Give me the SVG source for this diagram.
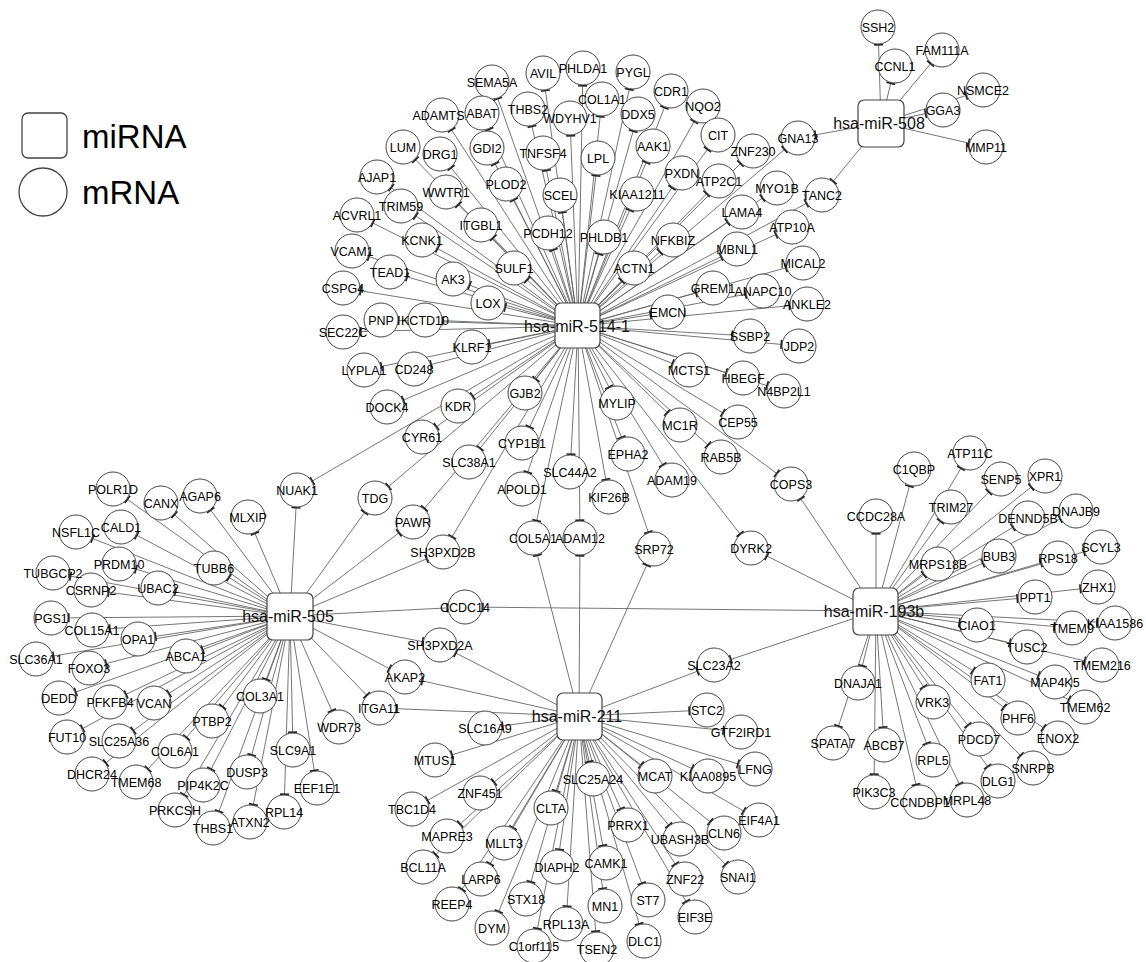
<svg xmlns="http://www.w3.org/2000/svg" width="1146" height="962" viewBox="0 0 1146 962">
<style>
.bg{fill:#fff}
#edges line{stroke:#666;stroke-width:0.9;marker-end:url(#t)}
.n circle{fill:#fff;stroke:#444;stroke-width:1}
.n text{font-family:"Liberation Sans",Arial,sans-serif;font-size:12.5px;text-anchor:middle;fill:#000}
.m rect{fill:#fff;stroke:#444;stroke-width:1.2}
.m text{font-family:"Liberation Sans",Arial,sans-serif;font-size:16px;text-anchor:middle;fill:#111}
.lg{font-family:"Liberation Sans",Arial,sans-serif;font-size:33px;fill:#000}
</style>
<defs>
<marker id="t" markerUnits="userSpaceOnUse" orient="auto" markerWidth="1" markerHeight="1" refX="0" refY="0" overflow="visible">
<path d="M-17.8,-4.5 L-17.8,4.5" stroke="#222" stroke-width="1.7" fill="none"/>
</marker>
</defs>
<rect class="bg" x="0" y="0" width="1146" height="962"/>
<g id="legend">
<rect x="22" y="113" width="45" height="45" rx="6" fill="#fff" stroke="#444" stroke-width="1.3"/>
<text class="lg" x="82" y="148">miRNA</text>
<circle cx="43" cy="192" r="24" fill="#fff" stroke="#444" stroke-width="1.3"/>
<text class="lg" x="82" y="204">mRNA</text>
</g>
<g id="edges">
<line x1="578" y1="326" x2="492" y2="82"/>
<line x1="578" y1="326" x2="543" y2="73"/>
<line x1="578" y1="326" x2="583" y2="68"/>
<line x1="578" y1="326" x2="633" y2="72"/>
<line x1="578" y1="326" x2="442" y2="115"/>
<line x1="578" y1="326" x2="482" y2="113"/>
<line x1="578" y1="326" x2="528" y2="109"/>
<line x1="578" y1="326" x2="570" y2="118"/>
<line x1="578" y1="326" x2="602" y2="99"/>
<line x1="578" y1="326" x2="671" y2="91"/>
<line x1="578" y1="326" x2="703" y2="106"/>
<line x1="578" y1="326" x2="638" y2="114"/>
<line x1="578" y1="326" x2="403" y2="147"/>
<line x1="578" y1="326" x2="440" y2="154"/>
<line x1="578" y1="326" x2="487" y2="148"/>
<line x1="578" y1="326" x2="543" y2="153"/>
<line x1="578" y1="326" x2="598" y2="158"/>
<line x1="578" y1="326" x2="653" y2="146"/>
<line x1="578" y1="326" x2="718" y2="135"/>
<line x1="578" y1="326" x2="753" y2="151"/>
<line x1="578" y1="326" x2="798" y2="138"/>
<line x1="578" y1="326" x2="377" y2="177"/>
<line x1="578" y1="326" x2="446" y2="192"/>
<line x1="578" y1="326" x2="506" y2="184"/>
<line x1="578" y1="326" x2="560" y2="195"/>
<line x1="578" y1="326" x2="682" y2="173"/>
<line x1="578" y1="326" x2="719" y2="181"/>
<line x1="578" y1="326" x2="637" y2="194"/>
<line x1="578" y1="326" x2="777" y2="188"/>
<line x1="578" y1="326" x2="822" y2="195"/>
<line x1="578" y1="326" x2="401" y2="206"/>
<line x1="578" y1="326" x2="357" y2="215"/>
<line x1="578" y1="326" x2="481" y2="225"/>
<line x1="578" y1="326" x2="548" y2="233"/>
<line x1="578" y1="326" x2="742" y2="212"/>
<line x1="578" y1="326" x2="792" y2="227"/>
<line x1="578" y1="326" x2="604" y2="237"/>
<line x1="578" y1="326" x2="673" y2="240"/>
<line x1="578" y1="326" x2="737" y2="249"/>
<line x1="578" y1="326" x2="422" y2="240"/>
<line x1="578" y1="326" x2="352" y2="251"/>
<line x1="578" y1="326" x2="514" y2="268"/>
<line x1="578" y1="326" x2="634" y2="268"/>
<line x1="578" y1="326" x2="803" y2="263"/>
<line x1="578" y1="326" x2="390" y2="272"/>
<line x1="578" y1="326" x2="453" y2="279"/>
<line x1="578" y1="326" x2="343" y2="288"/>
<line x1="578" y1="326" x2="713" y2="288"/>
<line x1="578" y1="326" x2="763" y2="291"/>
<line x1="578" y1="326" x2="488" y2="303"/>
<line x1="578" y1="326" x2="807" y2="304"/>
<line x1="578" y1="326" x2="668" y2="312"/>
<line x1="578" y1="326" x2="381" y2="320"/>
<line x1="578" y1="326" x2="425" y2="320"/>
<line x1="578" y1="326" x2="343" y2="332"/>
<line x1="578" y1="326" x2="750" y2="336"/>
<line x1="578" y1="326" x2="799" y2="346"/>
<line x1="578" y1="326" x2="472" y2="347"/>
<line x1="578" y1="326" x2="364" y2="370"/>
<line x1="578" y1="326" x2="414" y2="369"/>
<line x1="578" y1="326" x2="689" y2="370"/>
<line x1="578" y1="326" x2="743" y2="378"/>
<line x1="578" y1="326" x2="784" y2="391"/>
<line x1="578" y1="326" x2="525" y2="393"/>
<line x1="578" y1="326" x2="617" y2="403"/>
<line x1="578" y1="326" x2="387" y2="407"/>
<line x1="578" y1="326" x2="458" y2="406"/>
<line x1="578" y1="326" x2="680" y2="425"/>
<line x1="578" y1="326" x2="738" y2="422"/>
<line x1="578" y1="326" x2="422" y2="437"/>
<line x1="578" y1="326" x2="522" y2="443"/>
<line x1="578" y1="326" x2="628" y2="454"/>
<line x1="578" y1="326" x2="721" y2="457"/>
<line x1="578" y1="326" x2="469" y2="462"/>
<line x1="578" y1="326" x2="570" y2="472"/>
<line x1="578" y1="326" x2="672" y2="480"/>
<line x1="578" y1="326" x2="522" y2="489"/>
<line x1="578" y1="326" x2="609" y2="497"/>
<line x1="578" y1="326" x2="791" y2="484"/>
<line x1="578" y1="326" x2="297" y2="490"/>
<line x1="578" y1="326" x2="375" y2="498"/>
<line x1="578" y1="326" x2="413" y2="522"/>
<line x1="578" y1="326" x2="443" y2="552"/>
<line x1="578" y1="326" x2="533" y2="538"/>
<line x1="578" y1="326" x2="580" y2="538"/>
<line x1="578" y1="326" x2="654" y2="549"/>
<line x1="578" y1="326" x2="751" y2="548"/>
<line x1="881" y1="123" x2="878" y2="27"/>
<line x1="881" y1="123" x2="895" y2="66"/>
<line x1="881" y1="123" x2="942" y2="50"/>
<line x1="881" y1="123" x2="983" y2="90"/>
<line x1="881" y1="123" x2="943" y2="110"/>
<line x1="881" y1="123" x2="986" y2="147"/>
<line x1="881" y1="123" x2="798" y2="138"/>
<line x1="881" y1="123" x2="822" y2="195"/>
<line x1="290" y1="616" x2="297" y2="490"/>
<line x1="290" y1="616" x2="375" y2="498"/>
<line x1="290" y1="616" x2="413" y2="522"/>
<line x1="290" y1="616" x2="443" y2="552"/>
<line x1="290" y1="616" x2="465" y2="607"/>
<line x1="290" y1="616" x2="440" y2="645"/>
<line x1="290" y1="616" x2="405" y2="677"/>
<line x1="290" y1="616" x2="379" y2="708"/>
<line x1="290" y1="616" x2="339" y2="727"/>
<line x1="290" y1="616" x2="317" y2="788"/>
<line x1="290" y1="616" x2="293" y2="750"/>
<line x1="290" y1="616" x2="284" y2="812"/>
<line x1="290" y1="616" x2="250" y2="822"/>
<line x1="290" y1="616" x2="213" y2="828"/>
<line x1="290" y1="616" x2="247" y2="772"/>
<line x1="290" y1="616" x2="260" y2="696"/>
<line x1="290" y1="616" x2="203" y2="785"/>
<line x1="290" y1="616" x2="175" y2="810"/>
<line x1="290" y1="616" x2="212" y2="721"/>
<line x1="290" y1="616" x2="175" y2="751"/>
<line x1="290" y1="616" x2="136" y2="782"/>
<line x1="290" y1="616" x2="92" y2="774"/>
<line x1="290" y1="616" x2="119" y2="741"/>
<line x1="290" y1="616" x2="67" y2="737"/>
<line x1="290" y1="616" x2="154" y2="703"/>
<line x1="290" y1="616" x2="110" y2="702"/>
<line x1="290" y1="616" x2="59" y2="698"/>
<line x1="290" y1="616" x2="186" y2="656"/>
<line x1="290" y1="616" x2="89" y2="668"/>
<line x1="290" y1="616" x2="36" y2="659"/>
<line x1="290" y1="616" x2="138" y2="639"/>
<line x1="290" y1="616" x2="92" y2="630"/>
<line x1="290" y1="616" x2="51" y2="618"/>
<line x1="290" y1="616" x2="158" y2="588"/>
<line x1="290" y1="616" x2="91" y2="590"/>
<line x1="290" y1="616" x2="53" y2="573"/>
<line x1="290" y1="616" x2="119" y2="564"/>
<line x1="290" y1="616" x2="76" y2="532"/>
<line x1="290" y1="616" x2="121" y2="527"/>
<line x1="290" y1="616" x2="214" y2="568"/>
<line x1="290" y1="616" x2="113" y2="489"/>
<line x1="290" y1="616" x2="161" y2="503"/>
<line x1="290" y1="616" x2="200" y2="496"/>
<line x1="290" y1="616" x2="248" y2="517"/>
<line x1="579" y1="716" x2="533" y2="538"/>
<line x1="579" y1="716" x2="580" y2="538"/>
<line x1="579" y1="716" x2="654" y2="549"/>
<line x1="579" y1="716" x2="440" y2="645"/>
<line x1="579" y1="716" x2="405" y2="677"/>
<line x1="579" y1="716" x2="379" y2="708"/>
<line x1="579" y1="716" x2="714" y2="665"/>
<line x1="579" y1="716" x2="707" y2="710"/>
<line x1="579" y1="716" x2="741" y2="732"/>
<line x1="579" y1="716" x2="755" y2="769"/>
<line x1="579" y1="716" x2="708" y2="776"/>
<line x1="579" y1="716" x2="655" y2="776"/>
<line x1="579" y1="716" x2="759" y2="820"/>
<line x1="579" y1="716" x2="724" y2="833"/>
<line x1="579" y1="716" x2="738" y2="877"/>
<line x1="579" y1="716" x2="680" y2="839"/>
<line x1="579" y1="716" x2="628" y2="825"/>
<line x1="579" y1="716" x2="685" y2="879"/>
<line x1="579" y1="716" x2="695" y2="917"/>
<line x1="579" y1="716" x2="648" y2="900"/>
<line x1="579" y1="716" x2="644" y2="941"/>
<line x1="579" y1="716" x2="606" y2="863"/>
<line x1="579" y1="716" x2="605" y2="906"/>
<line x1="579" y1="716" x2="597" y2="949"/>
<line x1="579" y1="716" x2="593" y2="779"/>
<line x1="579" y1="716" x2="557" y2="867"/>
<line x1="579" y1="716" x2="566" y2="924"/>
<line x1="579" y1="716" x2="534" y2="946"/>
<line x1="579" y1="716" x2="551" y2="808"/>
<line x1="579" y1="716" x2="526" y2="899"/>
<line x1="579" y1="716" x2="492" y2="928"/>
<line x1="579" y1="716" x2="504" y2="843"/>
<line x1="579" y1="716" x2="481" y2="879"/>
<line x1="579" y1="716" x2="452" y2="904"/>
<line x1="579" y1="716" x2="447" y2="836"/>
<line x1="579" y1="716" x2="423" y2="867"/>
<line x1="579" y1="716" x2="480" y2="793"/>
<line x1="579" y1="716" x2="412" y2="809"/>
<line x1="579" y1="716" x2="435" y2="760"/>
<line x1="579" y1="716" x2="485" y2="728"/>
<line x1="876" y1="611" x2="791" y2="484"/>
<line x1="876" y1="611" x2="751" y2="548"/>
<line x1="876" y1="611" x2="465" y2="607"/>
<line x1="876" y1="611" x2="714" y2="665"/>
<line x1="876" y1="611" x2="876" y2="516"/>
<line x1="876" y1="611" x2="914" y2="469"/>
<line x1="876" y1="611" x2="970" y2="453"/>
<line x1="876" y1="611" x2="951" y2="507"/>
<line x1="876" y1="611" x2="1001" y2="479"/>
<line x1="876" y1="611" x2="1045" y2="476"/>
<line x1="876" y1="611" x2="1028" y2="518"/>
<line x1="876" y1="611" x2="1076" y2="511"/>
<line x1="876" y1="611" x2="938" y2="564"/>
<line x1="876" y1="611" x2="999" y2="556"/>
<line x1="876" y1="611" x2="1058" y2="558"/>
<line x1="876" y1="611" x2="1101" y2="547"/>
<line x1="876" y1="611" x2="1098" y2="587"/>
<line x1="876" y1="611" x2="1035" y2="597"/>
<line x1="876" y1="611" x2="977" y2="625"/>
<line x1="876" y1="611" x2="1072" y2="628"/>
<line x1="876" y1="611" x2="1115" y2="623"/>
<line x1="876" y1="611" x2="1027" y2="647"/>
<line x1="876" y1="611" x2="1102" y2="665"/>
<line x1="876" y1="611" x2="988" y2="680"/>
<line x1="876" y1="611" x2="1055" y2="682"/>
<line x1="876" y1="611" x2="1085" y2="707"/>
<line x1="876" y1="611" x2="1018" y2="718"/>
<line x1="876" y1="611" x2="1058" y2="738"/>
<line x1="876" y1="611" x2="933" y2="702"/>
<line x1="876" y1="611" x2="979" y2="739"/>
<line x1="876" y1="611" x2="1033" y2="768"/>
<line x1="876" y1="611" x2="998" y2="781"/>
<line x1="876" y1="611" x2="933" y2="760"/>
<line x1="876" y1="611" x2="967" y2="800"/>
<line x1="876" y1="611" x2="920" y2="802"/>
<line x1="876" y1="611" x2="884" y2="745"/>
<line x1="876" y1="611" x2="874" y2="792"/>
<line x1="876" y1="611" x2="858" y2="683"/>
<line x1="876" y1="611" x2="833" y2="743"/>
</g>
<g id="n-SEMA5A" class="n" transform="translate(492,82)"><circle r="17"/><text y="4.5">SEMA5A</text></g>
<g id="n-AVIL" class="n" transform="translate(543,73)"><circle r="17"/><text y="4.5">AVIL</text></g>
<g id="n-PHLDA1" class="n" transform="translate(583,68)"><circle r="17"/><text y="4.5">PHLDA1</text></g>
<g id="n-PYGL" class="n" transform="translate(633,72)"><circle r="17"/><text y="4.5">PYGL</text></g>
<g id="n-ADAMTS1" class="n" transform="translate(442,115)"><circle r="17"/><text y="4.5">ADAMTS1</text></g>
<g id="n-ABAT" class="n" transform="translate(482,113)"><circle r="17"/><text y="4.5">ABAT</text></g>
<g id="n-THBS2" class="n" transform="translate(528,109)"><circle r="17"/><text y="4.5">THBS2</text></g>
<g id="n-WDYHV1" class="n" transform="translate(570,118)"><circle r="17"/><text y="4.5">WDYHV1</text></g>
<g id="n-COL1A1" class="n" transform="translate(602,99)"><circle r="17"/><text y="4.5">COL1A1</text></g>
<g id="n-CDR1" class="n" transform="translate(671,91)"><circle r="17"/><text y="4.5">CDR1</text></g>
<g id="n-NQO2" class="n" transform="translate(703,106)"><circle r="17"/><text y="4.5">NQO2</text></g>
<g id="n-DDX5" class="n" transform="translate(638,114)"><circle r="17"/><text y="4.5">DDX5</text></g>
<g id="n-LUM" class="n" transform="translate(403,147)"><circle r="17"/><text y="4.5">LUM</text></g>
<g id="n-DRG1" class="n" transform="translate(440,154)"><circle r="17"/><text y="4.5">DRG1</text></g>
<g id="n-GDI2" class="n" transform="translate(487,148)"><circle r="17"/><text y="4.5">GDI2</text></g>
<g id="n-TNFSF4" class="n" transform="translate(543,153)"><circle r="17"/><text y="4.5">TNFSF4</text></g>
<g id="n-LPL" class="n" transform="translate(598,158)"><circle r="17"/><text y="4.5">LPL</text></g>
<g id="n-AAK1" class="n" transform="translate(653,146)"><circle r="17"/><text y="4.5">AAK1</text></g>
<g id="n-CIT" class="n" transform="translate(718,135)"><circle r="17"/><text y="4.5">CIT</text></g>
<g id="n-ZNF230" class="n" transform="translate(753,151)"><circle r="17"/><text y="4.5">ZNF230</text></g>
<g id="n-GNA13" class="n" transform="translate(798,138)"><circle r="17"/><text y="4.5">GNA13</text></g>
<g id="n-AJAP1" class="n" transform="translate(377,177)"><circle r="17"/><text y="4.5">AJAP1</text></g>
<g id="n-WWTR1" class="n" transform="translate(446,192)"><circle r="17"/><text y="4.5">WWTR1</text></g>
<g id="n-PLOD2" class="n" transform="translate(506,184)"><circle r="17"/><text y="4.5">PLOD2</text></g>
<g id="n-SCEL" class="n" transform="translate(560,195)"><circle r="17"/><text y="4.5">SCEL</text></g>
<g id="n-PXDN" class="n" transform="translate(682,173)"><circle r="17"/><text y="4.5">PXDN</text></g>
<g id="n-ATP2C1" class="n" transform="translate(719,181)"><circle r="17"/><text y="4.5">ATP2C1</text></g>
<g id="n-KIAA1211" class="n" transform="translate(637,194)"><circle r="17"/><text y="4.5">KIAA1211</text></g>
<g id="n-MYO1B" class="n" transform="translate(777,188)"><circle r="17"/><text y="4.5">MYO1B</text></g>
<g id="n-TANC2" class="n" transform="translate(822,195)"><circle r="17"/><text y="4.5">TANC2</text></g>
<g id="n-TRIM59" class="n" transform="translate(401,206)"><circle r="17"/><text y="4.5">TRIM59</text></g>
<g id="n-ACVRL1" class="n" transform="translate(357,215)"><circle r="17"/><text y="4.5">ACVRL1</text></g>
<g id="n-ITGBL1" class="n" transform="translate(481,225)"><circle r="17"/><text y="4.5">ITGBL1</text></g>
<g id="n-PCDH12" class="n" transform="translate(548,233)"><circle r="17"/><text y="4.5">PCDH12</text></g>
<g id="n-LAMA4" class="n" transform="translate(742,212)"><circle r="17"/><text y="4.5">LAMA4</text></g>
<g id="n-ATP10A" class="n" transform="translate(792,227)"><circle r="17"/><text y="4.5">ATP10A</text></g>
<g id="n-PHLDB1" class="n" transform="translate(604,237)"><circle r="17"/><text y="4.5">PHLDB1</text></g>
<g id="n-NFKBIZ" class="n" transform="translate(673,240)"><circle r="17"/><text y="4.5">NFKBIZ</text></g>
<g id="n-MBNL1" class="n" transform="translate(737,249)"><circle r="17"/><text y="4.5">MBNL1</text></g>
<g id="n-KCNK1" class="n" transform="translate(422,240)"><circle r="17"/><text y="4.5">KCNK1</text></g>
<g id="n-VCAM1" class="n" transform="translate(352,251)"><circle r="17"/><text y="4.5">VCAM1</text></g>
<g id="n-SULF1" class="n" transform="translate(514,268)"><circle r="17"/><text y="4.5">SULF1</text></g>
<g id="n-ACTN1" class="n" transform="translate(634,268)"><circle r="17"/><text y="4.5">ACTN1</text></g>
<g id="n-MICAL2" class="n" transform="translate(803,263)"><circle r="17"/><text y="4.5">MICAL2</text></g>
<g id="n-TEAD1" class="n" transform="translate(390,272)"><circle r="17"/><text y="4.5">TEAD1</text></g>
<g id="n-AK3" class="n" transform="translate(453,279)"><circle r="17"/><text y="4.5">AK3</text></g>
<g id="n-CSPG4" class="n" transform="translate(343,288)"><circle r="17"/><text y="4.5">CSPG4</text></g>
<g id="n-GREM1" class="n" transform="translate(713,288)"><circle r="17"/><text y="4.5">GREM1</text></g>
<g id="n-ANAPC10" class="n" transform="translate(763,291)"><circle r="17"/><text y="4.5">ANAPC10</text></g>
<g id="n-LOX" class="n" transform="translate(488,303)"><circle r="17"/><text y="4.5">LOX</text></g>
<g id="n-ANKLE2" class="n" transform="translate(807,304)"><circle r="17"/><text y="4.5">ANKLE2</text></g>
<g id="n-EMCN" class="n" transform="translate(668,312)"><circle r="17"/><text y="4.5">EMCN</text></g>
<g id="n-PNP" class="n" transform="translate(381,320)"><circle r="17"/><text y="4.5">PNP</text></g>
<g id="n-KCTD10" class="n" transform="translate(425,320)"><circle r="17"/><text y="4.5">KCTD10</text></g>
<g id="n-SEC22C" class="n" transform="translate(343,332)"><circle r="17"/><text y="4.5">SEC22C</text></g>
<g id="n-SSBP2" class="n" transform="translate(750,336)"><circle r="17"/><text y="4.5">SSBP2</text></g>
<g id="n-JDP2" class="n" transform="translate(799,346)"><circle r="17"/><text y="4.5">JDP2</text></g>
<g id="n-KLRF1" class="n" transform="translate(472,347)"><circle r="17"/><text y="4.5">KLRF1</text></g>
<g id="n-LYPLA1" class="n" transform="translate(364,370)"><circle r="17"/><text y="4.5">LYPLA1</text></g>
<g id="n-CD248" class="n" transform="translate(414,369)"><circle r="17"/><text y="4.5">CD248</text></g>
<g id="n-MCTS1" class="n" transform="translate(689,370)"><circle r="17"/><text y="4.5">MCTS1</text></g>
<g id="n-HBEGF" class="n" transform="translate(743,378)"><circle r="17"/><text y="4.5">HBEGF</text></g>
<g id="n-N4BP2L1" class="n" transform="translate(784,391)"><circle r="17"/><text y="4.5">N4BP2L1</text></g>
<g id="n-GJB2" class="n" transform="translate(525,393)"><circle r="17"/><text y="4.5">GJB2</text></g>
<g id="n-MYLIP" class="n" transform="translate(617,403)"><circle r="17"/><text y="4.5">MYLIP</text></g>
<g id="n-DOCK4" class="n" transform="translate(387,407)"><circle r="17"/><text y="4.5">DOCK4</text></g>
<g id="n-KDR" class="n" transform="translate(458,406)"><circle r="17"/><text y="4.5">KDR</text></g>
<g id="n-MC1R" class="n" transform="translate(680,425)"><circle r="17"/><text y="4.5">MC1R</text></g>
<g id="n-CEP55" class="n" transform="translate(738,422)"><circle r="17"/><text y="4.5">CEP55</text></g>
<g id="n-CYR61" class="n" transform="translate(422,437)"><circle r="17"/><text y="4.5">CYR61</text></g>
<g id="n-CYP1B1" class="n" transform="translate(522,443)"><circle r="17"/><text y="4.5">CYP1B1</text></g>
<g id="n-EPHA2" class="n" transform="translate(628,454)"><circle r="17"/><text y="4.5">EPHA2</text></g>
<g id="n-RAB5B" class="n" transform="translate(721,457)"><circle r="17"/><text y="4.5">RAB5B</text></g>
<g id="n-SLC38A1" class="n" transform="translate(469,462)"><circle r="17"/><text y="4.5">SLC38A1</text></g>
<g id="n-SLC44A2" class="n" transform="translate(570,472)"><circle r="17"/><text y="4.5">SLC44A2</text></g>
<g id="n-ADAM19" class="n" transform="translate(672,480)"><circle r="17"/><text y="4.5">ADAM19</text></g>
<g id="n-APOLD1" class="n" transform="translate(522,489)"><circle r="17"/><text y="4.5">APOLD1</text></g>
<g id="n-KIF26B" class="n" transform="translate(609,497)"><circle r="17"/><text y="4.5">KIF26B</text></g>
<g id="n-COPS3" class="n" transform="translate(791,484)"><circle r="17"/><text y="4.5">COPS3</text></g>
<g id="n-NUAK1" class="n" transform="translate(297,490)"><circle r="17"/><text y="4.5">NUAK1</text></g>
<g id="n-TDG" class="n" transform="translate(375,498)"><circle r="17"/><text y="4.5">TDG</text></g>
<g id="n-PAWR" class="n" transform="translate(413,522)"><circle r="17"/><text y="4.5">PAWR</text></g>
<g id="n-SH3PXD2B" class="n" transform="translate(443,552)"><circle r="17"/><text y="4.5">SH3PXD2B</text></g>
<g id="n-COL5A1" class="n" transform="translate(533,538)"><circle r="17"/><text y="4.5">COL5A1</text></g>
<g id="n-ADAM12" class="n" transform="translate(580,538)"><circle r="17"/><text y="4.5">ADAM12</text></g>
<g id="n-SRP72" class="n" transform="translate(654,549)"><circle r="17"/><text y="4.5">SRP72</text></g>
<g id="n-DYRK2" class="n" transform="translate(751,548)"><circle r="17"/><text y="4.5">DYRK2</text></g>
<g id="n-SSH2" class="n" transform="translate(878,27)"><circle r="17"/><text y="4.5">SSH2</text></g>
<g id="n-CCNL1" class="n" transform="translate(895,66)"><circle r="17"/><text y="4.5">CCNL1</text></g>
<g id="n-FAM111A" class="n" transform="translate(942,50)"><circle r="17"/><text y="4.5">FAM111A</text></g>
<g id="n-NSMCE2" class="n" transform="translate(983,90)"><circle r="17"/><text y="4.5">NSMCE2</text></g>
<g id="n-GGA3" class="n" transform="translate(943,110)"><circle r="17"/><text y="4.5">GGA3</text></g>
<g id="n-MMP11" class="n" transform="translate(986,147)"><circle r="17"/><text y="4.5">MMP11</text></g>
<g id="n-CCDC14" class="n" transform="translate(465,607)"><circle r="17"/><text y="4.5">CCDC14</text></g>
<g id="n-SH3PXD2A" class="n" transform="translate(440,645)"><circle r="17"/><text y="4.5">SH3PXD2A</text></g>
<g id="n-AKAP2" class="n" transform="translate(405,677)"><circle r="17"/><text y="4.5">AKAP2</text></g>
<g id="n-ITGA11" class="n" transform="translate(379,708)"><circle r="17"/><text y="4.5">ITGA11</text></g>
<g id="n-WDR73" class="n" transform="translate(339,727)"><circle r="17"/><text y="4.5">WDR73</text></g>
<g id="n-EEF1E1" class="n" transform="translate(317,788)"><circle r="17"/><text y="4.5">EEF1E1</text></g>
<g id="n-SLC9A1" class="n" transform="translate(293,750)"><circle r="17"/><text y="4.5">SLC9A1</text></g>
<g id="n-RPL14" class="n" transform="translate(284,812)"><circle r="17"/><text y="4.5">RPL14</text></g>
<g id="n-ATXN2" class="n" transform="translate(250,822)"><circle r="17"/><text y="4.5">ATXN2</text></g>
<g id="n-THBS1" class="n" transform="translate(213,828)"><circle r="17"/><text y="4.5">THBS1</text></g>
<g id="n-DUSP3" class="n" transform="translate(247,772)"><circle r="17"/><text y="4.5">DUSP3</text></g>
<g id="n-COL3A1" class="n" transform="translate(260,696)"><circle r="17"/><text y="4.5">COL3A1</text></g>
<g id="n-PIP4K2C" class="n" transform="translate(203,785)"><circle r="17"/><text y="4.5">PIP4K2C</text></g>
<g id="n-PRKCSH" class="n" transform="translate(175,810)"><circle r="17"/><text y="4.5">PRKCSH</text></g>
<g id="n-PTBP2" class="n" transform="translate(212,721)"><circle r="17"/><text y="4.5">PTBP2</text></g>
<g id="n-COL6A1" class="n" transform="translate(175,751)"><circle r="17"/><text y="4.5">COL6A1</text></g>
<g id="n-TMEM68" class="n" transform="translate(136,782)"><circle r="17"/><text y="4.5">TMEM68</text></g>
<g id="n-DHCR24" class="n" transform="translate(92,774)"><circle r="17"/><text y="4.5">DHCR24</text></g>
<g id="n-SLC25A36" class="n" transform="translate(119,741)"><circle r="17"/><text y="4.5">SLC25A36</text></g>
<g id="n-FUT10" class="n" transform="translate(67,737)"><circle r="17"/><text y="4.5">FUT10</text></g>
<g id="n-VCAN" class="n" transform="translate(154,703)"><circle r="17"/><text y="4.5">VCAN</text></g>
<g id="n-PFKFB4" class="n" transform="translate(110,702)"><circle r="17"/><text y="4.5">PFKFB4</text></g>
<g id="n-DEDD" class="n" transform="translate(59,698)"><circle r="17"/><text y="4.5">DEDD</text></g>
<g id="n-ABCA1" class="n" transform="translate(186,656)"><circle r="17"/><text y="4.5">ABCA1</text></g>
<g id="n-FOXO3" class="n" transform="translate(89,668)"><circle r="17"/><text y="4.5">FOXO3</text></g>
<g id="n-SLC36A1" class="n" transform="translate(36,659)"><circle r="17"/><text y="4.5">SLC36A1</text></g>
<g id="n-OPA1" class="n" transform="translate(138,639)"><circle r="17"/><text y="4.5">OPA1</text></g>
<g id="n-COL15A1" class="n" transform="translate(92,630)"><circle r="17"/><text y="4.5">COL15A1</text></g>
<g id="n-PGS1" class="n" transform="translate(51,618)"><circle r="17"/><text y="4.5">PGS1</text></g>
<g id="n-UBAC2" class="n" transform="translate(158,588)"><circle r="17"/><text y="4.5">UBAC2</text></g>
<g id="n-CSRNP2" class="n" transform="translate(91,590)"><circle r="17"/><text y="4.5">CSRNP2</text></g>
<g id="n-TUBGCP2" class="n" transform="translate(53,573)"><circle r="17"/><text y="4.5">TUBGCP2</text></g>
<g id="n-PRDM10" class="n" transform="translate(119,564)"><circle r="17"/><text y="4.5">PRDM10</text></g>
<g id="n-NSFL1C" class="n" transform="translate(76,532)"><circle r="17"/><text y="4.5">NSFL1C</text></g>
<g id="n-CALD1" class="n" transform="translate(121,527)"><circle r="17"/><text y="4.5">CALD1</text></g>
<g id="n-TUBB6" class="n" transform="translate(214,568)"><circle r="17"/><text y="4.5">TUBB6</text></g>
<g id="n-POLR1D" class="n" transform="translate(113,489)"><circle r="17"/><text y="4.5">POLR1D</text></g>
<g id="n-CANX" class="n" transform="translate(161,503)"><circle r="17"/><text y="4.5">CANX</text></g>
<g id="n-AGAP6" class="n" transform="translate(200,496)"><circle r="17"/><text y="4.5">AGAP6</text></g>
<g id="n-MLXIP" class="n" transform="translate(248,517)"><circle r="17"/><text y="4.5">MLXIP</text></g>
<g id="n-SLC23A2" class="n" transform="translate(714,665)"><circle r="17"/><text y="4.5">SLC23A2</text></g>
<g id="n-STC2" class="n" transform="translate(707,710)"><circle r="17"/><text y="4.5">STC2</text></g>
<g id="n-GTF2IRD1" class="n" transform="translate(741,732)"><circle r="17"/><text y="4.5">GTF2IRD1</text></g>
<g id="n-LFNG" class="n" transform="translate(755,769)"><circle r="17"/><text y="4.5">LFNG</text></g>
<g id="n-KIAA0895" class="n" transform="translate(708,776)"><circle r="17"/><text y="4.5">KIAA0895</text></g>
<g id="n-MCAT" class="n" transform="translate(655,776)"><circle r="17"/><text y="4.5">MCAT</text></g>
<g id="n-EIF4A1" class="n" transform="translate(759,820)"><circle r="17"/><text y="4.5">EIF4A1</text></g>
<g id="n-CLN6" class="n" transform="translate(724,833)"><circle r="17"/><text y="4.5">CLN6</text></g>
<g id="n-SNAI1" class="n" transform="translate(738,877)"><circle r="17"/><text y="4.5">SNAI1</text></g>
<g id="n-UBASH3B" class="n" transform="translate(680,839)"><circle r="17"/><text y="4.5">UBASH3B</text></g>
<g id="n-PRRX1" class="n" transform="translate(628,825)"><circle r="17"/><text y="4.5">PRRX1</text></g>
<g id="n-ZNF22" class="n" transform="translate(685,879)"><circle r="17"/><text y="4.5">ZNF22</text></g>
<g id="n-EIF3E" class="n" transform="translate(695,917)"><circle r="17"/><text y="4.5">EIF3E</text></g>
<g id="n-ST7" class="n" transform="translate(648,900)"><circle r="17"/><text y="4.5">ST7</text></g>
<g id="n-DLC1" class="n" transform="translate(644,941)"><circle r="17"/><text y="4.5">DLC1</text></g>
<g id="n-CAMK1" class="n" transform="translate(606,863)"><circle r="17"/><text y="4.5">CAMK1</text></g>
<g id="n-MN1" class="n" transform="translate(605,906)"><circle r="17"/><text y="4.5">MN1</text></g>
<g id="n-TSEN2" class="n" transform="translate(597,949)"><circle r="17"/><text y="4.5">TSEN2</text></g>
<g id="n-SLC25A24" class="n" transform="translate(593,779)"><circle r="17"/><text y="4.5">SLC25A24</text></g>
<g id="n-DIAPH2" class="n" transform="translate(557,867)"><circle r="17"/><text y="4.5">DIAPH2</text></g>
<g id="n-RPL13A" class="n" transform="translate(566,924)"><circle r="17"/><text y="4.5">RPL13A</text></g>
<g id="n-C1orf115" class="n" transform="translate(534,946)"><circle r="17"/><text y="4.5">C1orf115</text></g>
<g id="n-CLTA" class="n" transform="translate(551,808)"><circle r="17"/><text y="4.5">CLTA</text></g>
<g id="n-STX18" class="n" transform="translate(526,899)"><circle r="17"/><text y="4.5">STX18</text></g>
<g id="n-DYM" class="n" transform="translate(492,928)"><circle r="17"/><text y="4.5">DYM</text></g>
<g id="n-MLLT3" class="n" transform="translate(504,843)"><circle r="17"/><text y="4.5">MLLT3</text></g>
<g id="n-LARP6" class="n" transform="translate(481,879)"><circle r="17"/><text y="4.5">LARP6</text></g>
<g id="n-REEP4" class="n" transform="translate(452,904)"><circle r="17"/><text y="4.5">REEP4</text></g>
<g id="n-MAPRE3" class="n" transform="translate(447,836)"><circle r="17"/><text y="4.5">MAPRE3</text></g>
<g id="n-BCL11A" class="n" transform="translate(423,867)"><circle r="17"/><text y="4.5">BCL11A</text></g>
<g id="n-ZNF451" class="n" transform="translate(480,793)"><circle r="17"/><text y="4.5">ZNF451</text></g>
<g id="n-TBC1D4" class="n" transform="translate(412,809)"><circle r="17"/><text y="4.5">TBC1D4</text></g>
<g id="n-MTUS1" class="n" transform="translate(435,760)"><circle r="17"/><text y="4.5">MTUS1</text></g>
<g id="n-SLC16A9" class="n" transform="translate(485,728)"><circle r="17"/><text y="4.5">SLC16A9</text></g>
<g id="n-CCDC28A" class="n" transform="translate(876,516)"><circle r="17"/><text y="4.5">CCDC28A</text></g>
<g id="n-C1QBP" class="n" transform="translate(914,469)"><circle r="17"/><text y="4.5">C1QBP</text></g>
<g id="n-ATP11C" class="n" transform="translate(970,453)"><circle r="17"/><text y="4.5">ATP11C</text></g>
<g id="n-TRIM27" class="n" transform="translate(951,507)"><circle r="17"/><text y="4.5">TRIM27</text></g>
<g id="n-SENP5" class="n" transform="translate(1001,479)"><circle r="17"/><text y="4.5">SENP5</text></g>
<g id="n-XPR1" class="n" transform="translate(1045,476)"><circle r="17"/><text y="4.5">XPR1</text></g>
<g id="n-DENND5B" class="n" transform="translate(1028,518)"><circle r="17"/><text y="4.5">DENND5B</text></g>
<g id="n-DNAJB9" class="n" transform="translate(1076,511)"><circle r="17"/><text y="4.5">DNAJB9</text></g>
<g id="n-MRPS18B" class="n" transform="translate(938,564)"><circle r="17"/><text y="4.5">MRPS18B</text></g>
<g id="n-BUB3" class="n" transform="translate(999,556)"><circle r="17"/><text y="4.5">BUB3</text></g>
<g id="n-RPS18" class="n" transform="translate(1058,558)"><circle r="17"/><text y="4.5">RPS18</text></g>
<g id="n-SCYL3" class="n" transform="translate(1101,547)"><circle r="17"/><text y="4.5">SCYL3</text></g>
<g id="n-ZHX1" class="n" transform="translate(1098,587)"><circle r="17"/><text y="4.5">ZHX1</text></g>
<g id="n-PPT1" class="n" transform="translate(1035,597)"><circle r="17"/><text y="4.5">PPT1</text></g>
<g id="n-CIAO1" class="n" transform="translate(977,625)"><circle r="17"/><text y="4.5">CIAO1</text></g>
<g id="n-TMEM9" class="n" transform="translate(1072,628)"><circle r="17"/><text y="4.5">TMEM9</text></g>
<g id="n-KIAA1586" class="n" transform="translate(1115,623)"><circle r="17"/><text y="4.5">KIAA1586</text></g>
<g id="n-TUSC2" class="n" transform="translate(1027,647)"><circle r="17"/><text y="4.5">TUSC2</text></g>
<g id="n-TMEM216" class="n" transform="translate(1102,665)"><circle r="17"/><text y="4.5">TMEM216</text></g>
<g id="n-FAT1" class="n" transform="translate(988,680)"><circle r="17"/><text y="4.5">FAT1</text></g>
<g id="n-MAP4K5" class="n" transform="translate(1055,682)"><circle r="17"/><text y="4.5">MAP4K5</text></g>
<g id="n-TMEM62" class="n" transform="translate(1085,707)"><circle r="17"/><text y="4.5">TMEM62</text></g>
<g id="n-PHF6" class="n" transform="translate(1018,718)"><circle r="17"/><text y="4.5">PHF6</text></g>
<g id="n-ENOX2" class="n" transform="translate(1058,738)"><circle r="17"/><text y="4.5">ENOX2</text></g>
<g id="n-VRK3" class="n" transform="translate(933,702)"><circle r="17"/><text y="4.5">VRK3</text></g>
<g id="n-PDCD7" class="n" transform="translate(979,739)"><circle r="17"/><text y="4.5">PDCD7</text></g>
<g id="n-SNRPB" class="n" transform="translate(1033,768)"><circle r="17"/><text y="4.5">SNRPB</text></g>
<g id="n-DLG1" class="n" transform="translate(998,781)"><circle r="17"/><text y="4.5">DLG1</text></g>
<g id="n-RPL5" class="n" transform="translate(933,760)"><circle r="17"/><text y="4.5">RPL5</text></g>
<g id="n-MRPL48" class="n" transform="translate(967,800)"><circle r="17"/><text y="4.5">MRPL48</text></g>
<g id="n-CCNDBP1" class="n" transform="translate(920,802)"><circle r="17"/><text y="4.5">CCNDBP1</text></g>
<g id="n-ABCB7" class="n" transform="translate(884,745)"><circle r="17"/><text y="4.5">ABCB7</text></g>
<g id="n-PIK3C3" class="n" transform="translate(874,792)"><circle r="17"/><text y="4.5">PIK3C3</text></g>
<g id="n-DNAJA1" class="n" transform="translate(858,683)"><circle r="17"/><text y="4.5">DNAJA1</text></g>
<g id="n-SPATA7" class="n" transform="translate(833,743)"><circle r="17"/><text y="4.5">SPATA7</text></g>
<g id="m-hsa-miR-514-1" class="m"><rect x="555" y="303" width="45" height="45" rx="6"/><text x="577" y="331.5">hsa-miR-514-1</text></g>
<g id="m-hsa-miR-508" class="m"><rect x="858" y="100" width="46" height="47" rx="6"/><text x="879" y="129">hsa-miR-508</text></g>
<g id="m-hsa-miR-505" class="m"><rect x="267" y="593" width="46" height="47" rx="6"/><text x="288" y="622">hsa-miR-505</text></g>
<g id="m-hsa-miR-211" class="m"><rect x="557" y="693" width="45" height="47" rx="6"/><text x="577" y="722">hsa-miR-211</text></g>
<g id="m-hsa-miR-193b" class="m"><rect x="853" y="588" width="45" height="47" rx="6"/><text x="874" y="617">hsa-miR-193b</text></g>
</svg>
